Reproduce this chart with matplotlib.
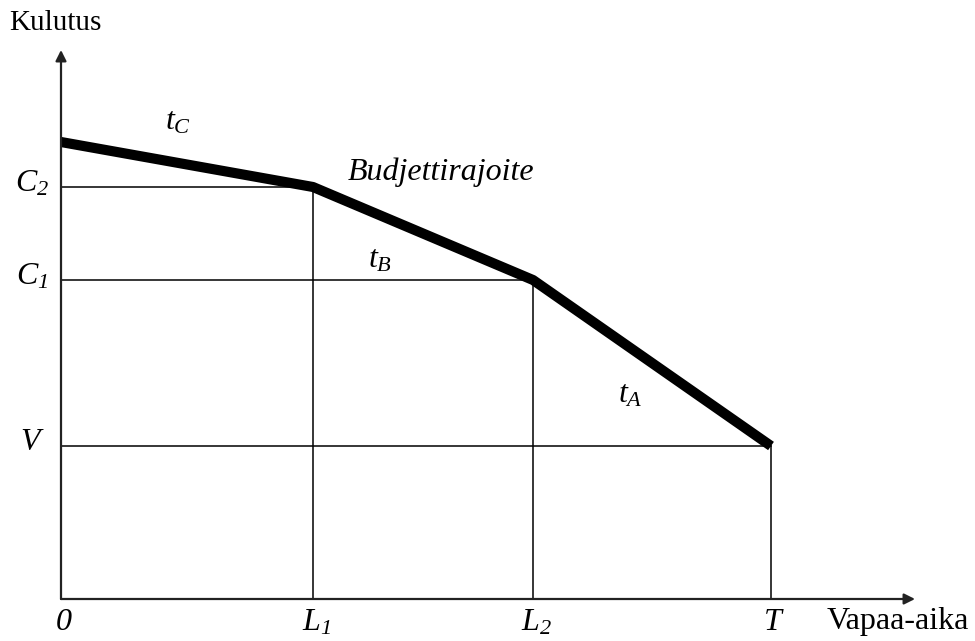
import matplotlib
matplotlib.use("Agg")
import matplotlib.pyplot as plt

# budget constraint kinks (x: leisure, y: consumption)
budget_x = [0.0, 2.52, 4.72, 7.10]
budget_y = [4.57, 4.12, 3.19, 1.53]

x_ticks = [0.0, 2.52, 4.72, 7.10]
x_tick_labels = [r"$0$", r"$L_1$", r"$L_2$", r"$T$"]
y_ticks = [4.12, 3.19, 1.53]
y_tick_labels = [r"$C_2$", r"$C_1$", r"$V$"]

slope_labels = [r"$t_C$", r"$t_B$", r"$t_A$"]
slope_label_x = [1.17, 3.19, 5.69]
slope_label_y = [4.77, 3.39, 2.04]

plt.rcParams["font.family"] = ["Liberation Serif", "DejaVu Serif"]
plt.rcParams["mathtext.fontset"] = "custom"
plt.rcParams["mathtext.rm"] = "Liberation Serif:italic"
plt.rcParams["mathtext.it"] = "Liberation Serif:italic"

fig = plt.figure(figsize=(9.75, 6.41), dpi=100)
ax = fig.add_axes([0, 0, 1, 1])
ax.set_xlim(-0.61, 9.14)
ax.set_ylim(-0.42, 5.99)
ax.axis("off")

# axes with arrow heads
ax.annotate("", xy=(8.54, 0), xytext=(0, 0),
            arrowprops=dict(arrowstyle="-|>", lw=1.6, color="#222222",
                            mutation_scale=16, shrinkA=0, shrinkB=0))
ax.annotate("", xy=(0, 5.49), xytext=(0, 0),
            arrowprops=dict(arrowstyle="-|>", lw=1.6, color="#222222",
                            mutation_scale=16, shrinkA=0, shrinkB=0))

# guide lines from the kinks to the axes
for xk, yk in zip(budget_x[1:], budget_y[1:]):
    ax.plot([0, xk], [yk, yk], color="black", lw=1.1)
    ax.plot([xk, xk], [0, yk], color="black", lw=1.1)

# budget constraint
ax.plot(budget_x, budget_y, color="black", lw=7.3, solid_joinstyle="round",
        solid_capstyle="butt")

# tick labels
for xt, lab in zip(x_ticks, x_tick_labels):
    ax.text(xt + 0.03, -0.24, lab, ha="center", va="center", fontsize=23)
for yt, lab in zip(y_ticks, y_tick_labels):
    ax.text(-0.29, yt + 0.03, lab, ha="center", va="center", fontsize=23)

for lx, ly, lab in zip(slope_label_x, slope_label_y, slope_labels):
    ax.text(lx, ly, lab, ha="center", va="center", fontsize=23)

ax.text(2.87, 4.27, "Budjettirajoite", style="italic", ha="left",
        va="center", fontsize=23)

ax.text(-0.06, 5.76, "Kulutus", ha="center", va="center", fontsize=21)
ax.text(7.66, -0.23, "Vapaa-aika", ha="left", va="center", fontsize=23)

fig.savefig("out.png", dpi=100)
